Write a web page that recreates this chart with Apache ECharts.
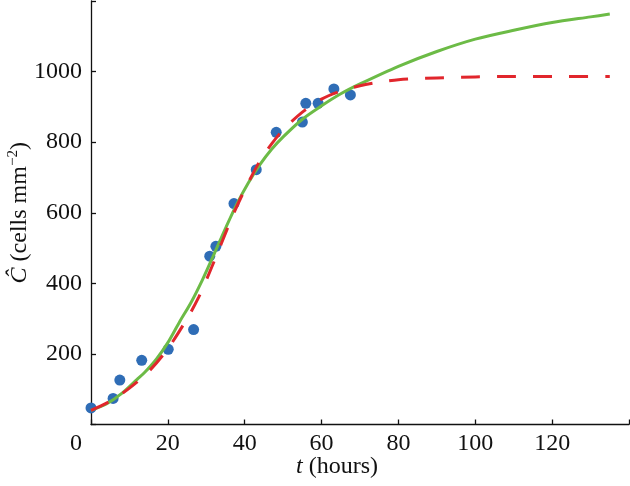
<!DOCTYPE html>
<html><head><meta charset="utf-8">
<script src="https://cdn.jsdelivr.net/npm/echarts@6/dist/echarts.min.js"></script>
<style>html,body{margin:0;padding:0;background:#fff}#c{width:630px;height:486px}</style>
</head><body><div id="c"></div>
<script>
var obsT = [0, 5.75, 7.5, 13.2, 20.1, 26.7, 30.9, 32.5, 37.2, 43, 48.2, 55, 55.9, 59.1, 63.2, 67.5];
var obsC = [47, 74, 126, 182, 213, 269, 477, 505, 626, 722, 828, 857, 910, 910, 951, 934];
var greenT = [0, 4, 8, 12, 14, 17, 20, 23, 26, 29, 32, 35, 38, 41, 44, 47, 50, 55, 60, 65, 70, 80, 90, 100, 110, 120, 130, 135];
var greenC = [40, 58, 88, 128, 148, 185, 232, 290, 345, 410, 482, 556, 626, 686, 737, 780, 815, 865, 903, 937, 965, 1015, 1057, 1092, 1117, 1139, 1155, 1163];
var redT = [0, 5, 10, 15, 20, 25, 28, 31, 34, 37, 40, 44, 47, 50, 55, 60, 65, 70, 75, 80, 90, 100, 110, 120, 135];
var redC = [40, 66, 103, 150, 215, 300, 360, 435, 515, 595, 665, 748, 795, 835, 885, 922, 945, 960, 970, 977, 982, 985, 986, 986, 986];
var xTicks = [0, 20, 40, 60, 80, 100, 120];
var yTicks = [200, 400, 600, 800, 1000];

function zip(a, b) { return a.map(function (v, i) { return [v, b[i]]; }); }
var font = "'Liberation Serif', 'Times New Roman', serif";
var fs = 24;
var chart = echarts.init(document.getElementById('c'), null, {renderer: 'canvas'});
chart.setOption({
  animation: false,
  grid: {left: 91, right: 1, top: 1, bottom: 61.5, containLabel: false, outerBoundsMode: 'none'},
  xAxis: {
    type: 'value', min: 0, max: 140, interval: 20,
    name: '{i|t} (hours)', nameLocation: 'middle', nameGap: 30, nameMoveOverlap: false,
    nameTextStyle: {fontFamily: font, fontSize: fs, color: '#111', padding: [0, 46, 0, 0],
      rich: {i: {fontFamily: font, fontSize: fs, fontStyle: 'italic', color: '#111'}}},
    axisLine: {lineStyle: {color: '#111', width: 1.3}},
    axisTick: {inside: true, length: 5, lineStyle: {color: '#111', width: 1.3}},
    splitLine: {show: false},
    axisLabel: {fontFamily: font, fontSize: fs, color: '#111', margin: 7,
      formatter: function (v) {
        if (v === 0) return '{z|0}';
        return xTicks.indexOf(v) >= 0 ? String(v) : '';
      },
      rich: {z: {fontFamily: font, fontSize: fs, color: '#111', padding: [0, 30, 0, 0]}}
    }
  },
  yAxis: {
    type: 'value', min: 0, max: 1200, interval: 200,
    name: '{i|Ĉ} (cells mm{s|−2})', nameLocation: 'middle', nameGap: 57, nameRotate: 90, nameMoveOverlap: false,
    nameTextStyle: {fontFamily: font, fontSize: fs, color: '#111',
      rich: {
        i: {fontFamily: font, fontSize: fs, fontStyle: 'italic', color: '#111'},
        s: {fontFamily: font, fontSize: 15, color: '#111', padding: [0, 0, 13, 0]}
      }},
    axisLine: {lineStyle: {color: '#111', width: 1.3}},
    axisTick: {inside: true, length: 5, lineStyle: {color: '#111', width: 1.3}},
    splitLine: {show: false},
    axisLabel: {fontFamily: font, fontSize: fs, color: '#111', margin: 9,
      formatter: function (v) { return yTicks.indexOf(v) >= 0 ? String(v) : ''; }}
  },
  series: [
    {type: 'scatter', data: zip(obsT, obsC), symbolSize: 11, z: 2,
      itemStyle: {color: '#2f6db6', opacity: 1}},
    {type: 'line', data: zip(greenT, greenC), smooth: 0.3, symbol: 'none', z: 3,
      lineStyle: {color: '#6cbb46', width: 3}},
    {type: 'line', data: zip(redT, redC), smooth: 0.3, symbol: 'none', z: 4,
      lineStyle: {color: '#e1262c', width: 3, type: [19, 17]}}
  ]
});
</script></body></html>
